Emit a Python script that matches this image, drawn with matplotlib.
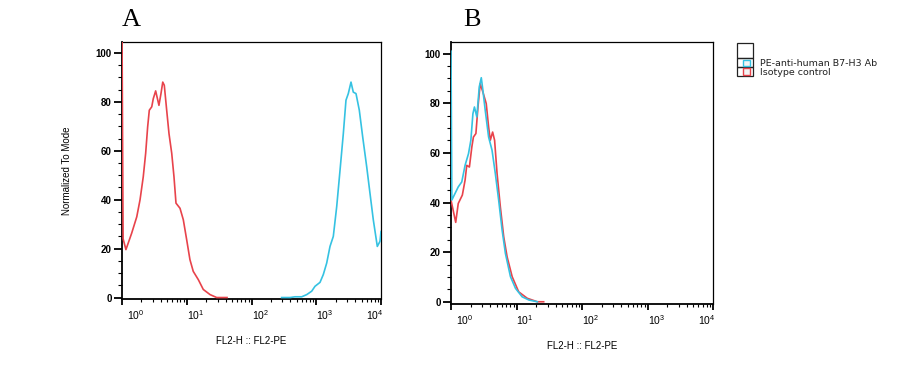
import numpy as np
import matplotlib
matplotlib.use("Agg")
import matplotlib.pyplot as plt
import matplotlib.transforms as mtransforms
from matplotlib.patches import Rectangle
from matplotlib.ticker import FixedLocator, NullFormatter

plt.rcParams['font.family'] = ['Liberation Sans', 'DejaVu Sans']
plt.rcParams['mathtext.fontset'] = 'custom'
plt.rcParams['mathtext.rm'] = 'Liberation Sans'
plt.rcParams['mathtext.it'] = 'Liberation Sans'

RED = '#e8434b'
CYAN = '#35c2e2'

# panel A - isotype control (red)
a_iso_x = [1.0, 1.04, 1.15, 1.41, 1.69, 1.90, 2.13, 2.32, 2.49, 2.64, 2.88, 3.04, 3.31,
           3.72, 4.00, 4.26, 4.50, 4.90, 5.32, 5.86, 6.35, 6.82, 7.87, 8.85, 9.98,
           11.2, 12.6, 15.1, 18.0, 22.9, 29.0, 41.9]
a_iso_y = [110, 24, 19.6, 26.3, 33, 40, 49.4, 59, 69.8, 76.6, 78, 81.3, 84.5,
           78.6, 83.4, 88.1, 86.8, 76.6, 67, 59, 49.4, 38.6, 36.5, 31.8, 23.6,
           15.5, 10.7, 7.3, 3.3, 1.2, 0, 0]

# panel A - PE-anti-human B7-H3 Ab (cyan)
a_ab_x = [292, 394, 470, 596, 713, 851, 957, 1143, 1285, 1450, 1631, 1834, 2070,
          2330, 2618, 2878, 3126, 3441, 3733, 4111, 4624, 5214, 6012, 6761, 7603,
          8770, 9658, 10000]
a_ab_y = [0, 0, 0.3, 0.3, 1.2, 2.6, 4.6, 6.2, 9.4, 14.1, 20.9, 25, 37.2,
          52.1, 67, 80.7, 83.4, 88.1, 84, 83.4, 76.6, 65.7, 53.5, 42.6, 31.8,
          20.9, 23, 27]

# panel B - isotype control (red)
b_iso_x = [1.0, 1.18, 1.29, 1.49, 1.64, 1.74, 1.91, 2.08, 2.20, 2.40, 2.58, 2.79,
           3.07, 3.45, 3.75, 3.98, 4.32, 4.63, 5.05, 5.67, 6.38, 7.19, 8.59, 10.8,
           14.6, 20.8, 26.0]
b_iso_y = [41, 32, 39.6, 43, 49, 55, 54.3, 62.4, 66.4, 67.8, 78.5, 87.9,
           84.5, 79.9, 70.5, 65.1, 68.4, 65.1, 51.7, 38.2, 26.2, 18.1, 10.1, 4,
           1.4, 0, 0]

# panel B - PE-anti-human B7-H3 Ab (cyan)
b_ab_x = [1.0, 1.03, 1.15, 1.29, 1.46, 1.64, 1.85, 2.01, 2.16, 2.28, 2.48, 2.70,
          2.90, 3.07, 3.33, 3.75, 4.23, 4.75, 5.34, 6.03, 6.77, 8.09, 9.66, 12.2,
          15.5, 20.8]
b_ab_y = [101, 41, 43.6, 46.3, 48.3, 55, 59.7, 65.1, 75.8, 78.5, 74.5, 86.6,
          90.3, 85.2, 77.2, 66.4, 61.1, 51.7, 41, 28.9, 19.5, 10.1, 5.4, 2,
          0.7, 0]

y_ticks = [0, 20, 40, 60, 80, 100]
x_decades = [1, 10, 100, 1000, 10000]
x_labels = [r'$\mathregular{10^{0}}$', r'$\mathregular{10^{1}}$', r'$\mathregular{10^{2}}$',
            r'$\mathregular{10^{3}}$', r'$\mathregular{10^{4}}$']
legend_labels = ['PE-anti-human B7-H3 Ab', 'Isotype control']

W, H = 919, 373
fig = plt.figure(figsize=(W / 100, H / 100), dpi=100)


def box(l, t, r, b):
    return [l / W, 1 - b / H, (r - l) / W, (b - t) / H]


def style_axes(ax, ylim):
    ax.set_xscale('log')
    ax.set_xlim(1, 10000)
    ax.set_ylim(*ylim)
    ax.set_yticks(y_ticks)
    ax.yaxis.set_minor_locator(FixedLocator(np.arange(0, 101, 5)))
    ax.set_xticks(x_decades)
    ax.set_xticklabels(x_labels)
    minors = [m * d for d in x_decades[:-1] for m in range(2, 10)]
    ax.xaxis.set_minor_locator(FixedLocator(minors))
    ax.xaxis.set_minor_formatter(NullFormatter())
    ax.set_xlim(1, 10000)
    ax.tick_params(axis='y', which='major', direction='out', length=6, width=1.3,
                   labelsize=7, pad=1.5)
    ax.tick_params(axis='y', which='minor', direction='out', length=3, width=0.8)
    ax.tick_params(axis='x', which='major', direction='out', length=4, width=1.3,
                   labelsize=7.5, pad=2.5)
    ax.tick_params(axis='x', which='minor', direction='out', length=2.5, width=0.8)
    for lbl in ax.get_yticklabels():
        lbl.set_fontweight('bold')
    xl = ax.get_xticklabels()
    for i, lbl in enumerate(xl):
        if i == len(xl) - 1:
            lbl.set_ha('right')
            lbl.set_transform(lbl.get_transform() +
                              mtransforms.ScaledTranslation(3 / 100, 0, fig.dpi_scale_trans))
        else:
            lbl.set_ha('left')
            off = 5 if i == 0 else 0
            lbl.set_transform(lbl.get_transform() +
                              mtransforms.ScaledTranslation(off / 100, 0, fig.dpi_scale_trans))
    for s in ['left', 'bottom']:
        ax.spines[s].set_linewidth(1.3)
    for s in ['top', 'right']:
        ax.spines[s].set_linewidth(0.9)
    ax.set_xlabel('FL2-H :: FL2-PE', fontsize=7, labelpad=10)


# panel A
axA = fig.add_axes(box(122, 42, 381, 299))
axA.plot(a_iso_x, a_iso_y, color=RED, lw=1.2, zorder=3)
axA.plot(a_ab_x, a_ab_y, color=CYAN, lw=1.2, zorder=3)
style_axes(axA, (-0.6, 104.5))
axA.set_ylabel('Normalized To Mode', fontsize=7, labelpad=17)
fig.text(131 / W, 1 - 20 / H, 'A', fontsize=19, family='Liberation Serif',
         ha='center', va='center')

# panel B
axB = fig.add_axes(box(451, 42, 713, 304))
axB.plot(b_iso_x, b_iso_y, color=RED, lw=1.2, zorder=3)
axB.plot(b_ab_x, b_ab_y, color=CYAN, lw=1.2, zorder=3)
style_axes(axB, (-0.9, 104.7))
fig.text(472 / W, 1 - 20 / H, 'B', fontsize=19, family='Liberation Serif',
         ha='center', va='center')

# legend table
cells = [(42.7, 58.3), (58.3, 67.3), (67.3, 76.0)]
for top, bot in cells:
    fig.add_artist(Rectangle((737 / W, 1 - bot / H), 16 / W, (bot - top) / H,
                             transform=fig.transFigure, fill=False,
                             edgecolor='#222222', lw=0.9))
for (top, bot), col, txt in zip(cells[1:], [CYAN, RED], legend_labels):
    cy = (top + bot) / 2
    fig.add_artist(Rectangle((742.5 / W, 1 - (cy + 3.3) / H), 7 / W, 6.6 / H,
                             transform=fig.transFigure, facecolor='#f4f4f4',
                             edgecolor=col, lw=1.0))
    fig.text(760 / W, 1 - (cy + 1) / H, txt, fontsize=6.8, family='DejaVu Sans',
             ha='left', va='center', color='#222222')

fig.savefig('out.png', dpi=100)
